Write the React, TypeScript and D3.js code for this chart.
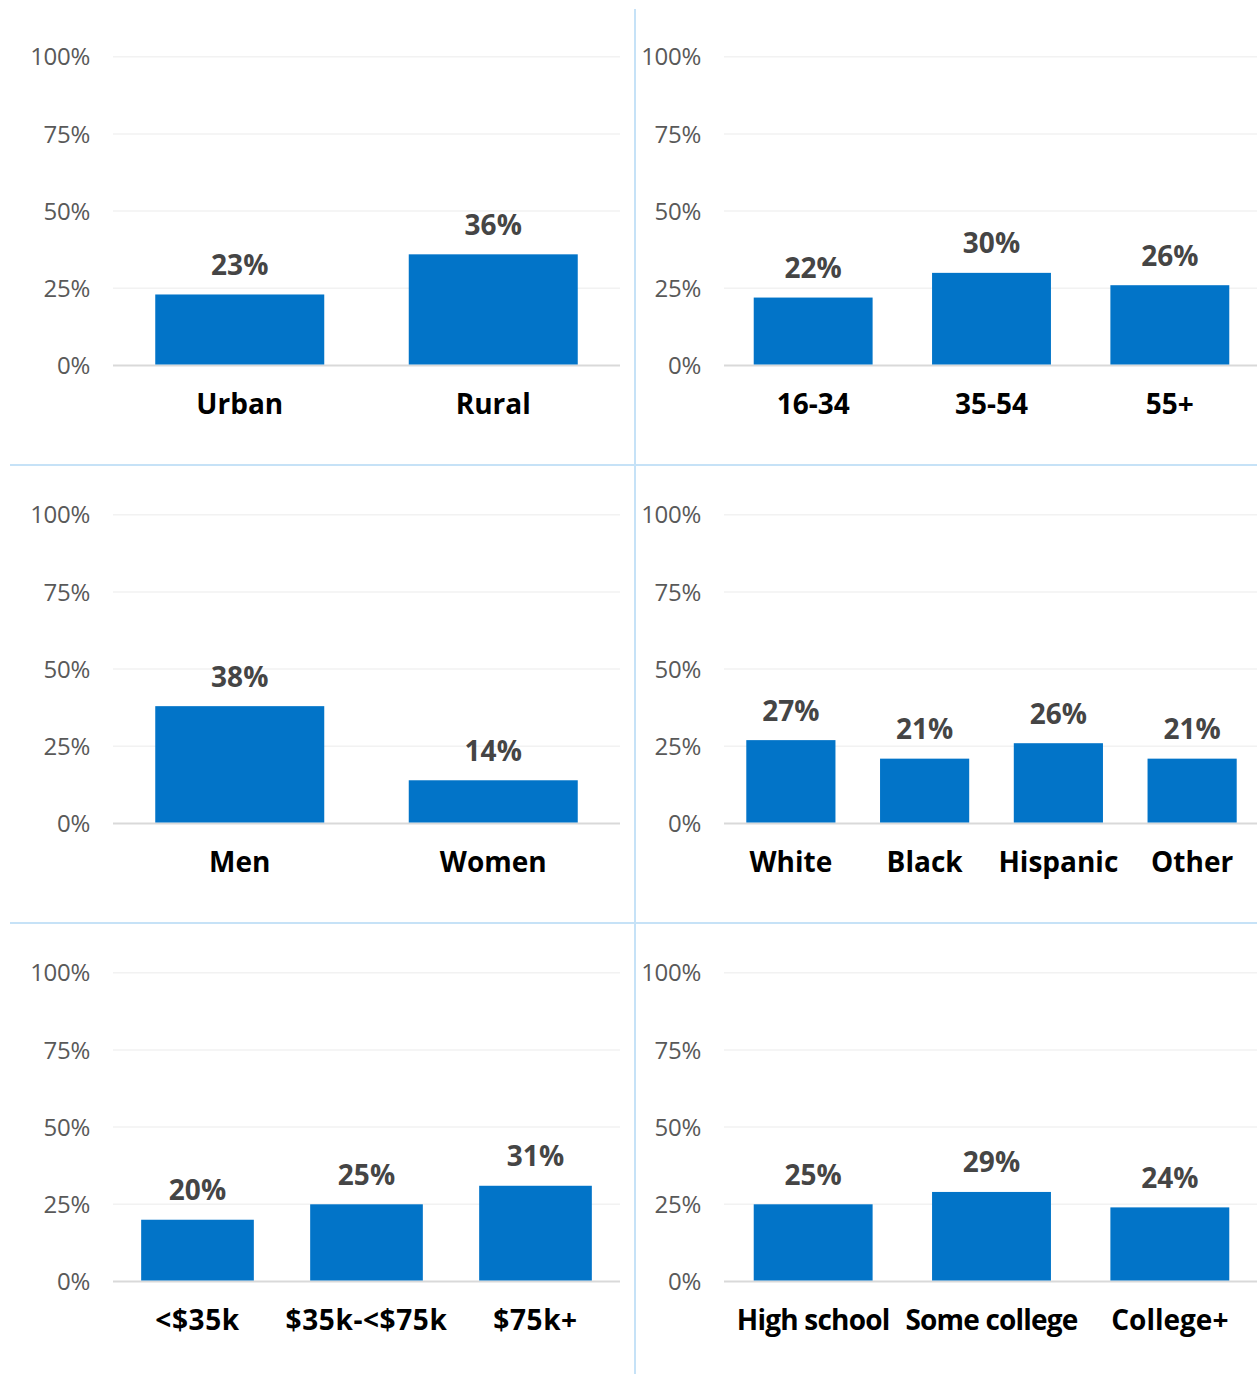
import React from "react";
import * as d3 from "d3";

const tickValues = [0, 25, 50, 75, 100];

const locationCategories = ["Urban", "Rural"];
const locationValues = [23, 36];

const ageCategories = ["16-34", "35-54", "55+"];
const ageValues = [22, 30, 26];

const genderCategories = ["Men", "Women"];
const genderValues = [38, 14];

const raceCategories = ["White", "Black", "Hispanic", "Other"];
const raceValues = [27, 21, 26, 21];

const incomeCategories = ["<$35k", "$35k-<$75k", "$75k+"];
const incomeValues = [20, 25, 31];

const educationCategories = ["High school", "Some college", "College+"];
const educationValues = [25, 29, 24];

const panels = [
  { categories: locationCategories, values: locationValues },
  { categories: ageCategories, values: ageValues },
  { categories: genderCategories, values: genderValues },
  { categories: raceCategories, values: raceValues },
  { categories: incomeCategories, values: incomeValues },
  { categories: educationCategories, values: educationValues },
];

const W = 1257;
const H = 1374;
const ROW_H = 458;
const FONT = "'Open Sans', 'Noto Sans', sans-serif";
const BAR = "#0274c8";
const DIVIDER = "#c6e2f7";

function Panel({ categories, values, col, row }: any) {
  const x0 = col === 0 ? 113 : 724;
  const x1 = col === 0 ? 620 : 1259;
  const top = row * ROW_H;
  const y = d3.scaleLinear().domain([0, 100]).range([top + 365.5, top + 56.7]);
  const x = d3
    .scaleBand<string>()
    .domain(categories)
    .range([x0, x1])
    .paddingInner(1 / 3)
    .paddingOuter(1 / 6);
  const labelX = x0 - 23;
  return (
    <g>
      {tickValues.map((t) => (
        <g key={t}>
          <line
            x1={x0}
            x2={col === 0 ? x1 : W}
            y1={y(t)}
            y2={y(t)}
            stroke={t === 0 ? "#d9d9d9" : "#f2f2f2"}
            strokeWidth={t === 0 ? 2 : 1.5}
          />
          <text
            x={labelX}
            y={y(t) + 8.6}
            textAnchor="end"
            fontFamily={FONT}
            fontSize={24}
            fill="#595959"
            letterSpacing={-0.3}
          >
            {t}%
          </text>
        </g>
      ))}
      {categories.map((c: string, i: number) => {
        const bx = x(c)!;
        const bw = x.bandwidth();
        const v = values[i];
        return (
          <g key={c}>
            <rect x={bx} y={y(v)} width={bw} height={y(0) - y(v) - 1} fill={BAR} />
            <text
              x={bx + bw / 2}
              y={y(v) - 19.5}
              textAnchor="middle"
              fontFamily={FONT}
              fontWeight="bold"
              fontSize={28}
              fill="#454545"
            >
              {v}%
            </text>
            <text
              x={bx + bw / 2}
              y={y(0) + 48}
              textAnchor="middle"
              fontFamily={FONT}
              fontWeight="bold"
              fontSize={28}
              fill="#000"
              letterSpacing={c.length > 10 ? -0.8 : c.includes("$") ? 0.6 : 0}
            >
              {c}
            </text>
          </g>
        );
      })}
    </g>
  );
}

export default function App() {
  return (
    <svg
      width={W}
      height={H}
      style={{ position: "absolute", left: 0, top: 0, background: "#fff" }}
    >
      <rect x={0} y={0} width={W} height={H} fill="#fff" />
      {panels.map((p, i) => (
        <Panel key={i} {...p} col={i % 2} row={Math.floor(i / 2)} />
      ))}
      <line x1={635} x2={635} y1={9} y2={H} stroke={DIVIDER} strokeWidth={2} />
      {[1, 2].map((r) => (
        <line
          key={r}
          x1={10}
          x2={W}
          y1={r * ROW_H + 7}
          y2={r * ROW_H + 7}
          stroke={DIVIDER}
          strokeWidth={2}
        />
      ))}
    </svg>
  );
}
